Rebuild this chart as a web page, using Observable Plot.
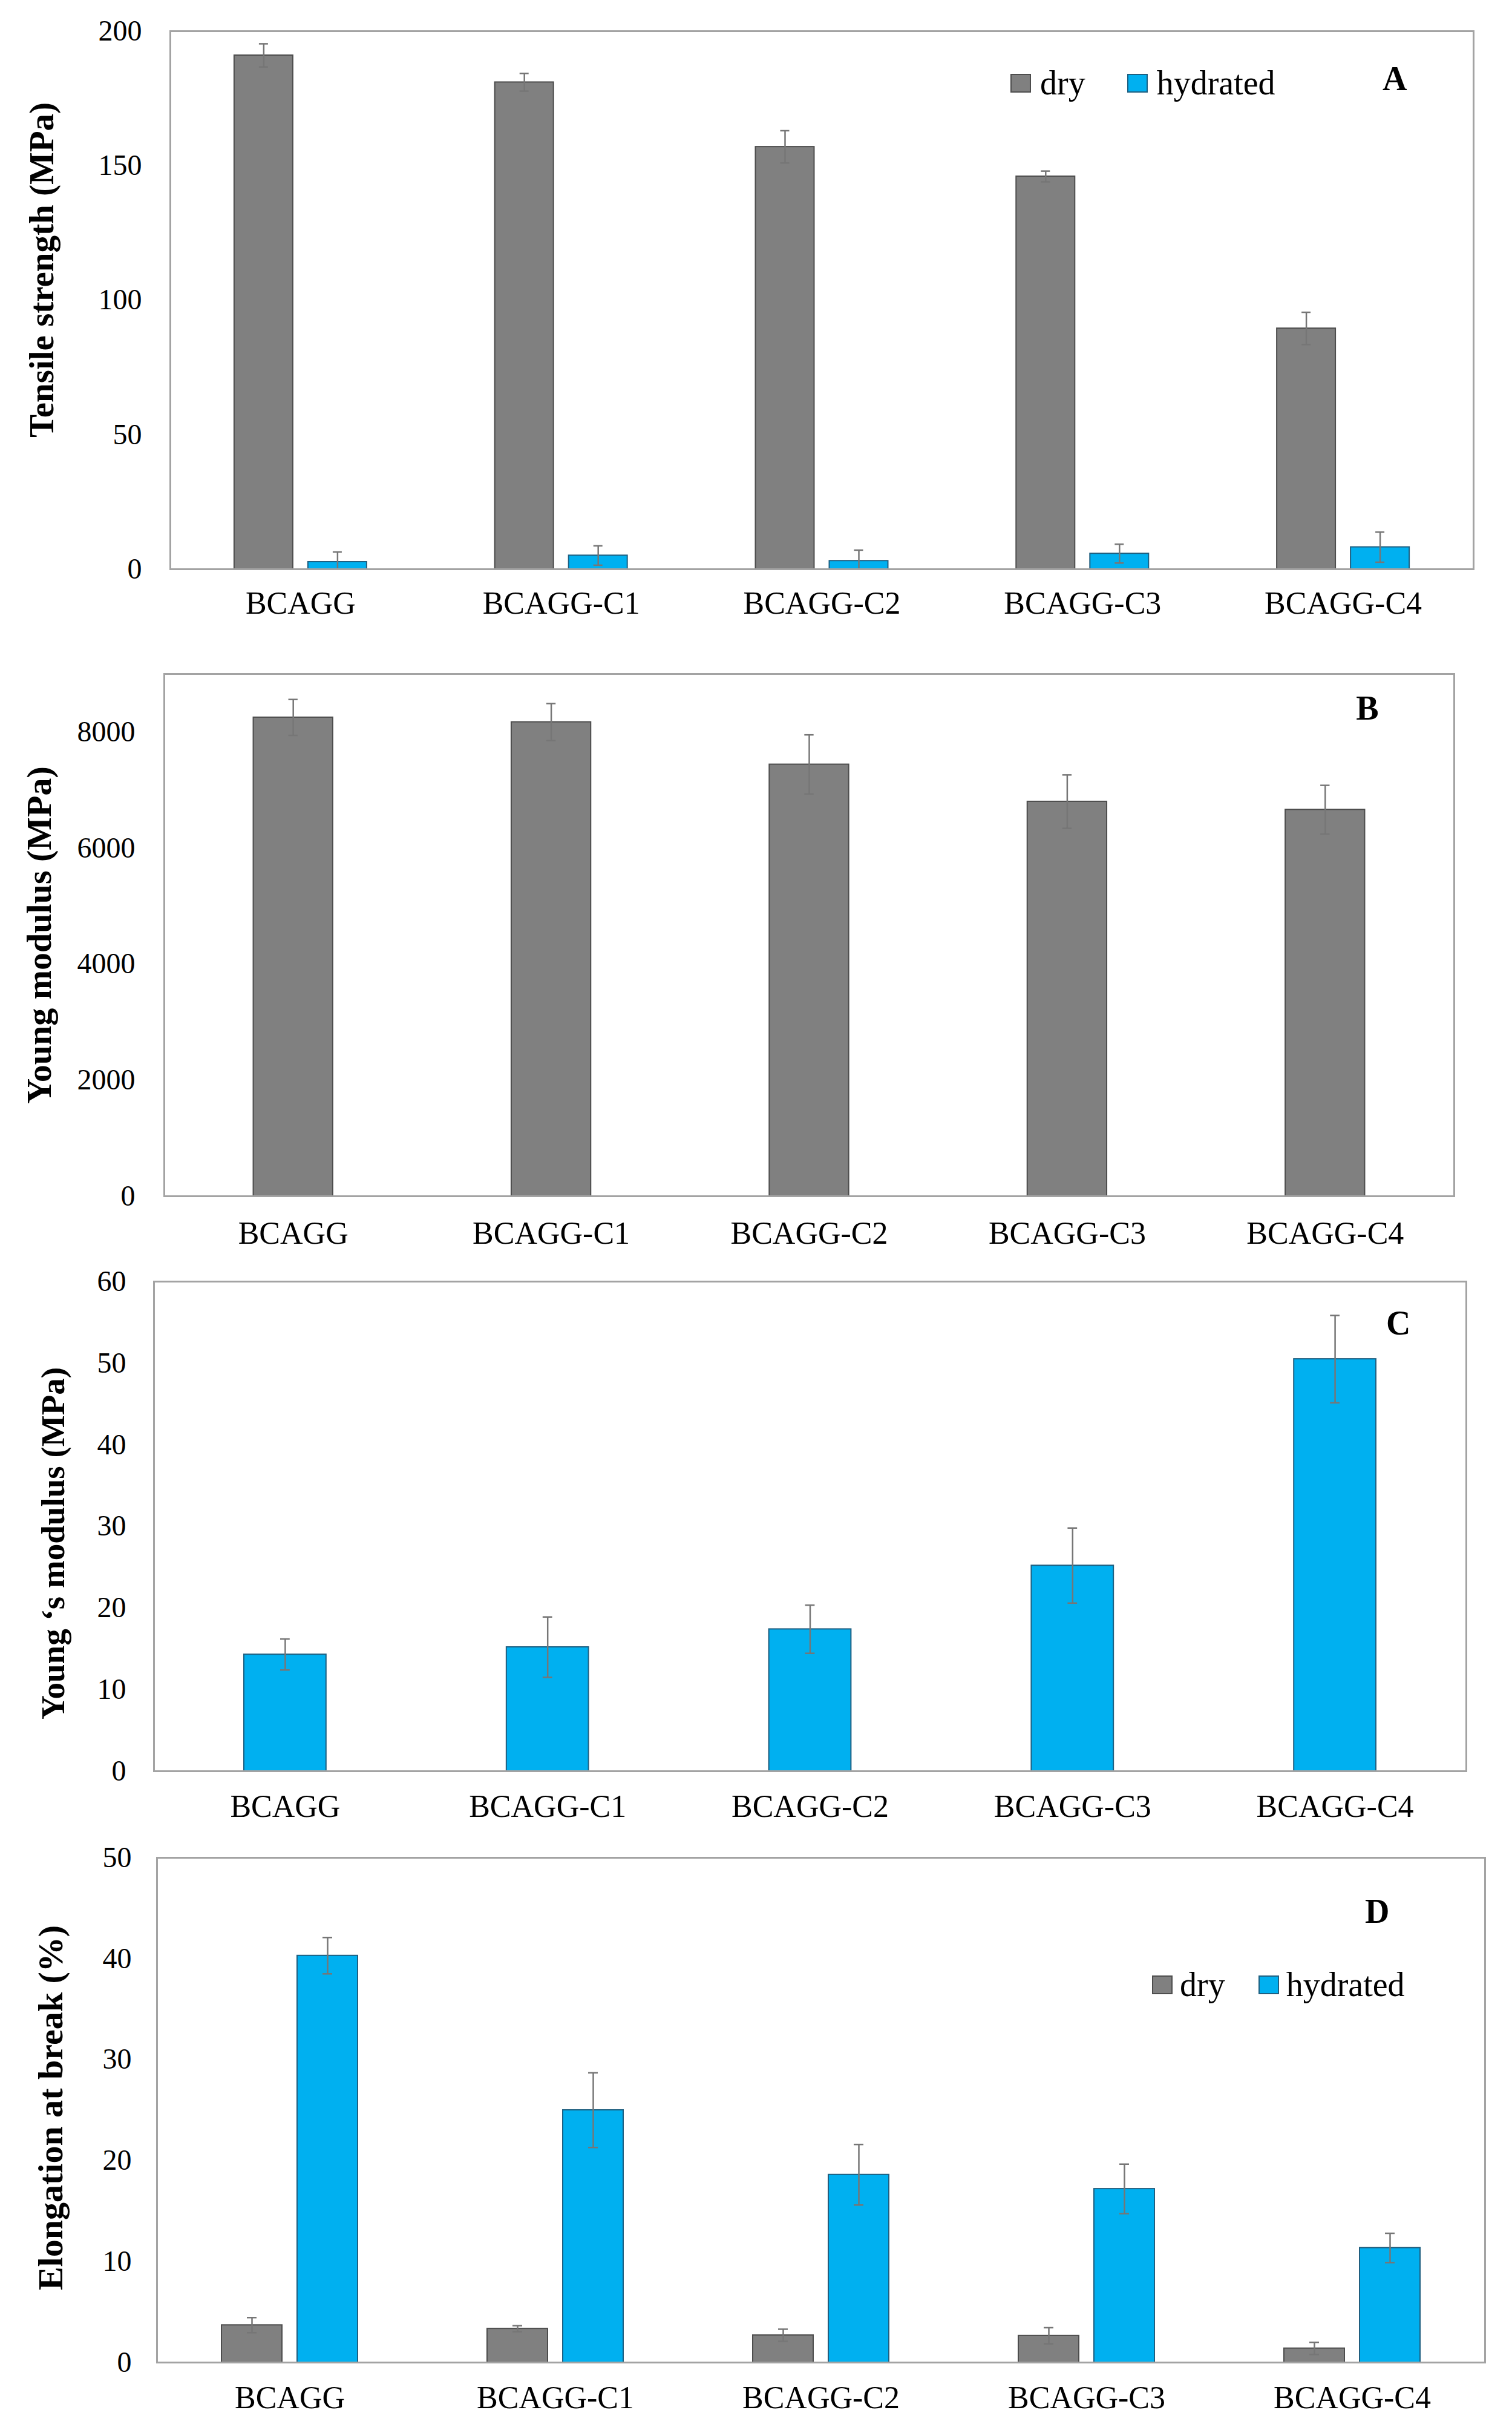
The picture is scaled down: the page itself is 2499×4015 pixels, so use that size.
<!DOCTYPE html>
<html>
<head>
<meta charset="utf-8">
<script src="https://cdn.jsdelivr.net/npm/d3@7"></script>
<script src="https://cdn.jsdelivr.net/npm/@observablehq/plot@0.6"></script>
<style>
html, body { margin: 0; padding: 0; background: #fff; }
.panel { position: relative; width: 2499px; overflow: hidden; background: #fff; }
.panel > svg { display: block; }
.leg { position: absolute; }
.leg span[class$="-swatch"] { margin-right: var(--ig); }
.leg span[class$="-swatch"] > svg { margin-right: var(--sg); }
.leg span[class$="-swatch"]:nth-of-type(1) rect { stroke: #4d4d4d; stroke-width: 2px; }
.leg span[class$="-swatch"]:nth-of-type(2) rect { stroke: #1f5f80; stroke-width: 2px; }
</style>
</head>
<body>
<div id="pA" class="panel"></div>
<div id="pB" class="panel"></div>
<div id="pC" class="panel"></div>
<div id="pD" class="panel"></div>
<script>
// ---------- data ----------
const categories = ["BCAGG", "BCAGG-C1", "BCAGG-C2", "BCAGG-C3", "BCAGG-C4"];
const seriesNames = ["dry", "hydrated"];

// A: tensile strength (MPa)
const tensileDry = [191, 181, 157, 146, 89.5];
const tensileDryErr = [4.3, 3.3, 6, 2, 6];
const tensileHyd = [2.7, 5.1, 3.1, 5.8, 8.2];
const tensileHydErr = [3.7, 3.6, 4, 3.5, 5.6];
const tensileTicks = [0, 50, 100, 150, 200];

// B: Young modulus, dry (MPa)
const youngDry = [8250, 8170, 7440, 6800, 6660];
const youngDryErr = [310, 320, 510, 460, 420];
const youngDryTicks = [0, 2000, 4000, 6000, 8000];

// C: Young's modulus, hydrated (MPa)
const youngHyd = [14.3, 15.2, 17.4, 25.2, 50.5];
const youngHydErr = [1.9, 3.7, 2.95, 4.6, 5.35];
const youngHydTicks = [0, 10, 20, 30, 40, 50, 60];

// D: elongation at break (%)
const elongDry = [3.7, 3.35, 2.7, 2.65, 1.4];
const elongDryErr = [0.75, 0.3, 0.6, 0.8, 0.6];
const elongHyd = [40.3, 25.0, 18.6, 17.2, 11.35];
const elongHydErr = [1.8, 3.7, 3.0, 2.45, 1.45];
const elongTicks = [0, 10, 20, 30, 40, 50];

// ---------- style ----------
const FONT = "'Liberation Serif', 'Times New Roman', Times, serif";
const FILL = {dry: "#808080", hydrated: "#00B0F0"};
const EDGE = {dry: "#4d4d4d", hydrated: "#1f5f80"};
const ERR = "#767676";
const FRAME = "#a3a3a3";
const TICK_SIZE = 48, CAT_SIZE = 52, LETTER_SIZE = 56, LEGEND_SIZE = 56;

function yAxisMarks(o, faceted) {
  return [
    Plot.axisY({ticks: o.ticks, tickFormat: d => String(d), tickSize: 0, tickPadding: o.tickPad,
                fontSize: TICK_SIZE, label: null}),
    Plot.text([o.title], {facet: faceted ? "super" : "auto", frameAnchor: "left", rotate: -90,
                          textAnchor: "middle", lineAnchor: "top", dx: -o.labelOffset, dy: o.titleDy,
                          fontSize: o.titleSize, fontWeight: "bold", fill: "#000"})
  ];
}

function letterMark(o, faceted) {
  return Plot.text([o.letter], {facet: faceted ? "super" : "auto", frameAnchor: "top-right",
                                textAnchor: "end", lineAnchor: "top", dx: o.letterDx, dy: o.letterDy,
                                fontSize: LETTER_SIZE, fontWeight: "bold", fill: "#000"});
}

function addLegend(el, o) {
  const leg = Plot.legend({
    color: {domain: seriesNames, range: [FILL.dry, FILL.hydrated]},
    legend: "swatches", swatchWidth: 32, swatchHeight: 29,
    style: {fontFamily: FONT, fontSize: LEGEND_SIZE + "px", lineHeight: "1", color: "#000", margin: "0"}
  });
  const wrap = document.createElement("div");
  wrap.className = "leg";
  wrap.style.left = o.left + "px";
  wrap.style.top = o.top + "px";
  wrap.style.setProperty("--ig", o.itemGap + "px");
  wrap.style.setProperty("--sg", o.swatchGap + "px");
  wrap.appendChild(leg);
  el.appendChild(wrap);
}

function groupedPanel(id, o) {
  const rows = [];
  categories.forEach((c, i) => {
    rows.push({cat: c, series: "dry", value: o.dry[i], err: o.dryErr[i]});
    rows.push({cat: c, series: "hydrated", value: o.hyd[i], err: o.hydErr[i]});
  });
  const barOpts = s => ({filter: d => d.series === s, fx: "cat", x: "series", y: "value",
                         fill: FILL[s], stroke: EDGE[s], strokeWidth: 2});
  const plot = Plot.plot({
    width: 2499, height: o.height,
    marginTop: o.m[0], marginRight: o.m[1], marginBottom: o.m[2], marginLeft: o.m[3],
    style: {fontFamily: FONT, color: "#000", background: "#fff"},
    fx: {domain: categories, padding: 0, round: false, axis: null},
    x: {domain: seriesNames, paddingInner: o.pi, paddingOuter: o.po, round: false, axis: null},
    y: {domain: o.domain, clamp: true, axis: null},
    marks: [
      Plot.barY(rows, barOpts("dry")),
      Plot.barY(rows, barOpts("hydrated")),
      Plot.ruleX(rows, {fx: "cat", x: "series", y1: d => d.value - d.err, y2: d => d.value + d.err,
                        stroke: ERR, strokeWidth: 2.5}),
      Plot.tickY(rows, {fx: "cat", x: "series", y: d => d.value + d.err, insetLeft: o.cap, insetRight: o.cap,
                        stroke: ERR, strokeWidth: 2.5}),
      Plot.tickY(rows, {fx: "cat", x: "series", y: d => d.value - d.err, insetLeft: o.cap, insetRight: o.cap,
                        stroke: ERR, strokeWidth: 2.5}),
      ...yAxisMarks(o, true),
      Plot.axisFx({anchor: "bottom", tickSize: 0, tickPadding: o.xPad, fontSize: CAT_SIZE, label: null}),
      Plot.frame({facet: "super", stroke: FRAME, strokeWidth: 3}),
      letterMark(o, true)
    ]
  });
  const el = document.getElementById(id);
  el.style.height = o.height + "px";
  el.appendChild(plot);
  addLegend(el, o.legend);
}

function singlePanel(id, o) {
  const rows = categories.map((c, i) => ({cat: c, value: o.values[i], err: o.errs[i]}));
  const plot = Plot.plot({
    width: 2499, height: o.height,
    marginTop: o.m[0], marginRight: o.m[1], marginBottom: o.m[2], marginLeft: o.m[3],
    style: {fontFamily: FONT, color: "#000", background: "#fff"},
    x: {domain: categories, paddingInner: o.pi, paddingOuter: o.pi / 2, round: false, axis: null},
    y: {domain: o.domain, axis: null},
    marks: [
      Plot.barY(rows, {x: "cat", y: "value", fill: FILL[o.series], stroke: EDGE[o.series], strokeWidth: 2}),
      Plot.ruleX(rows, {x: "cat", y1: d => d.value - d.err, y2: d => d.value + d.err, stroke: ERR, strokeWidth: 2.5}),
      Plot.tickY(rows, {x: "cat", y: d => d.value + d.err, insetLeft: o.cap, insetRight: o.cap, stroke: ERR, strokeWidth: 2.5}),
      Plot.tickY(rows, {x: "cat", y: d => d.value - d.err, insetLeft: o.cap, insetRight: o.cap, stroke: ERR, strokeWidth: 2.5}),
      ...yAxisMarks(o, false),
      Plot.axisX({anchor: "bottom", tickSize: 0, tickPadding: o.xPad, fontSize: CAT_SIZE, label: null}),
      Plot.frame({stroke: FRAME, strokeWidth: 3}),
      letterMark(o, false)
    ]
  });
  const el = document.getElementById(id);
  el.style.height = o.height + "px";
  el.appendChild(plot);
}

// ---------- panels ----------
groupedPanel("pA", {
  height: 1060, m: [51, 64, 120, 281],
  dry: tensileDry, dryErr: tensileDryErr, hyd: tensileHyd, hydErr: tensileHydErr,
  domain: [0, 200], ticks: tensileTicks, tickPad: 47,
  title: "Tensile strength (MPa)", titleSize: 57, labelOffset: 234, titleDy: -50,
  pi: 0.205, po: 0.868, cap: 41, xPad: 37,
  letter: "A", letterDx: -110, letterDy: 58,
  legend: {left: 1671, top: 109, itemGap: 70, swatchGap: 16}
});

singlePanel("pB", {
  height: 1025, m: [53, 96, 109, 271], series: "dry",
  values: youngDry, errs: youngDryErr,
  domain: [0, 9000], ticks: youngDryTicks, tickPad: 48,
  title: "Young modulus (MPa)", titleSize: 58, labelOffset: 229, titleDy: 0,
  pi: 0.692, cap: 58, xPad: 42,
  letter: "B", letterDx: -125, letterDy: 36
});

singlePanel("pC", {
  height: 955, m: [32, 76, 114, 254], series: "hydrated",
  values: youngHyd, errs: youngHydErr,
  domain: [0, 60], ticks: youngHydTicks, tickPad: 46,
  title: "Young \u2018s modulus (MPa)", titleSize: 55, labelOffset: 188, titleDy: 28,
  pi: 0.687, cap: 60, xPad: 39,
  letter: "C", letterDx: -92, letterDy: 48
});

groupedPanel("pD", {
  height: 975, m: [29, 45, 112, 259],
  dry: elongDry, dryErr: elongDryErr, hyd: elongHyd, hydErr: elongHydErr,
  domain: [0, 50], ticks: elongTicks, tickPad: 42,
  title: "Elongation at break (%)", titleSize: 58, labelOffset: 198, titleDy: -4,
  pi: 0.2, po: 0.856, cap: 42, xPad: 39,
  letter: "D", letterDx: -158, letterDy: 68,
  legend: {left: 1905, top: 211, itemGap: 56, swatchGap: 13}
});
</script>
</body>
</html>
